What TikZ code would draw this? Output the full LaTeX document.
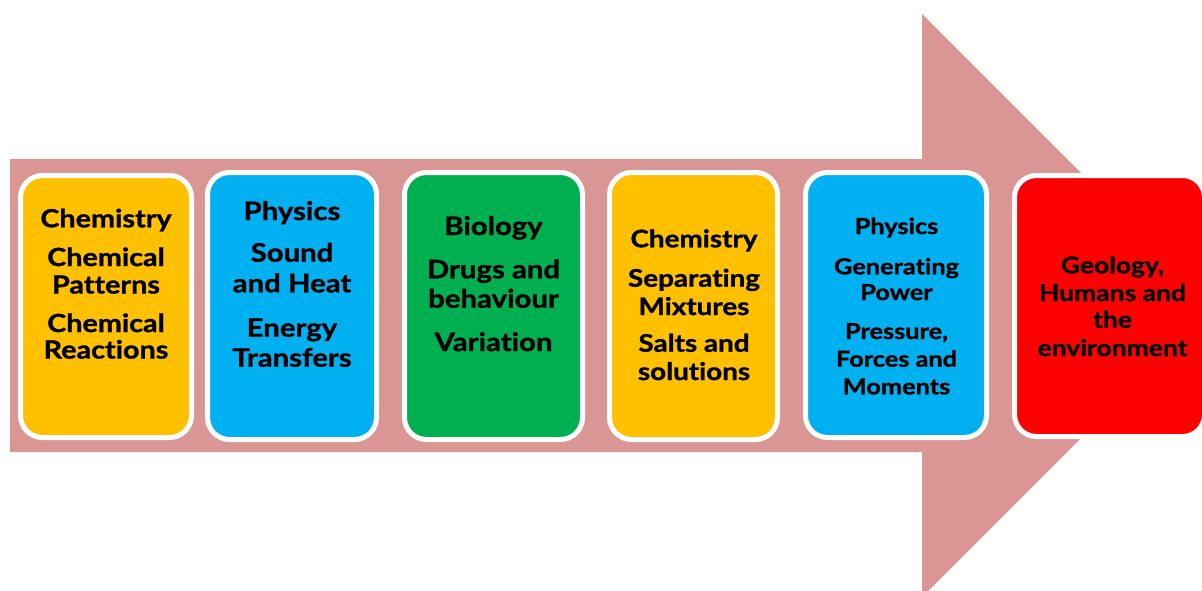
\documentclass[tikz,border=0pt]{standalone}
\usepackage{fontspec}
\setmainfont{Lato}[Ligatures={NoCommon}, BoldFeatures={FakeBold=1.2, FakeStretch=1.15}]
\definecolor{arrowpink}{HTML}{D99694}
\definecolor{boxorange}{HTML}{FFC000}
\definecolor{boxblue}{HTML}{00B0F0}
\definecolor{boxgreen}{HTML}{00B050}
\definecolor{boxred}{HTML}{FF0000}
\tikzset{
  card/.style={draw=white, line width=5pt, rounded corners=22pt, inner sep=0pt},
  line/.style={anchor=base, inner sep=0pt, text=black, font=\bfseries\fontsize{#1}{#1}\selectfont},
}
\begin{document}
\begin{tikzpicture}[x=1pt,y=-1pt]
\useasboundingbox (0,0) rectangle (1202,590);
\clip (0,0) rectangle (1202,590);
% big arrow
\fill[arrowpink] (10,159) -- (922,159) -- (922,14) -- (1213.5,305.5) -- (922,597) -- (922,452) -- (10,452) -- cycle;
% cards
\node[card, fill=boxorange, minimum width=171pt, minimum height=262pt] (b1) at (106,306.5) {};
\node[card, fill=boxblue,   minimum width=169pt, minimum height=267pt] (b2) at (292,306) {};
\node[card, fill=boxgreen,  minimum width=178pt, minimum height=267pt] (b3) at (493.5,306) {};
\node[card, fill=boxorange, minimum width=168pt, minimum height=267pt] (b4) at (693.5,306) {};
\node[card, fill=boxblue,   minimum width=181pt, minimum height=265pt] (b5) at (896,305) {};
\node[card, fill=boxred,    minimum width=190pt, minimum height=261pt] (b6) at (1109.5,306) {};
% texts
\foreach \t/\y [count=\i] in {Chemistry/227.3, Chemical/266, Patterns/293.5, Chemical/332, Reactions/358.5}
  \node[line=25] (b1t\i) at (106,\y) {\t};
\foreach \t/\y [count=\i] in {Physics/220, Sound/261.7, and Heat/292.3, Energy/336.7, Transfers/366.7}
  \node[line=25.5] (b2t\i) at (292,\y) {\t};
\foreach \t/\y [count=\i] in {Biology/235, Drugs and/278.3, behaviour/307.7, Variation/351}
  \node[line=25.5] (b3t\i) at (493.5,\y) {\t};
\foreach \t/\y [count=\i] in {Chemistry/247.3, Separating/286.7, Mixtures/315, Salts and/351.7, solutions/380}
  \node[line=24.2] (b4t\i) at (694,\y) {\t};
\foreach \t/\y [count=\i] in {Physics/234, Generating/274.3, Power/300, {Pressure,}/339, Forces and/366.7, Moments/394.3}
  \node[line=22] (b5t\i) at (896.5,\y) {\t};
\foreach \t/\y [count=\i] in {{Geology,}/273.3, Humans and/301, the/327.7, environment/356}
  \node[line=23] (b6t\i) at (1112.5,\y) {\t};
\end{tikzpicture}
\end{document}
